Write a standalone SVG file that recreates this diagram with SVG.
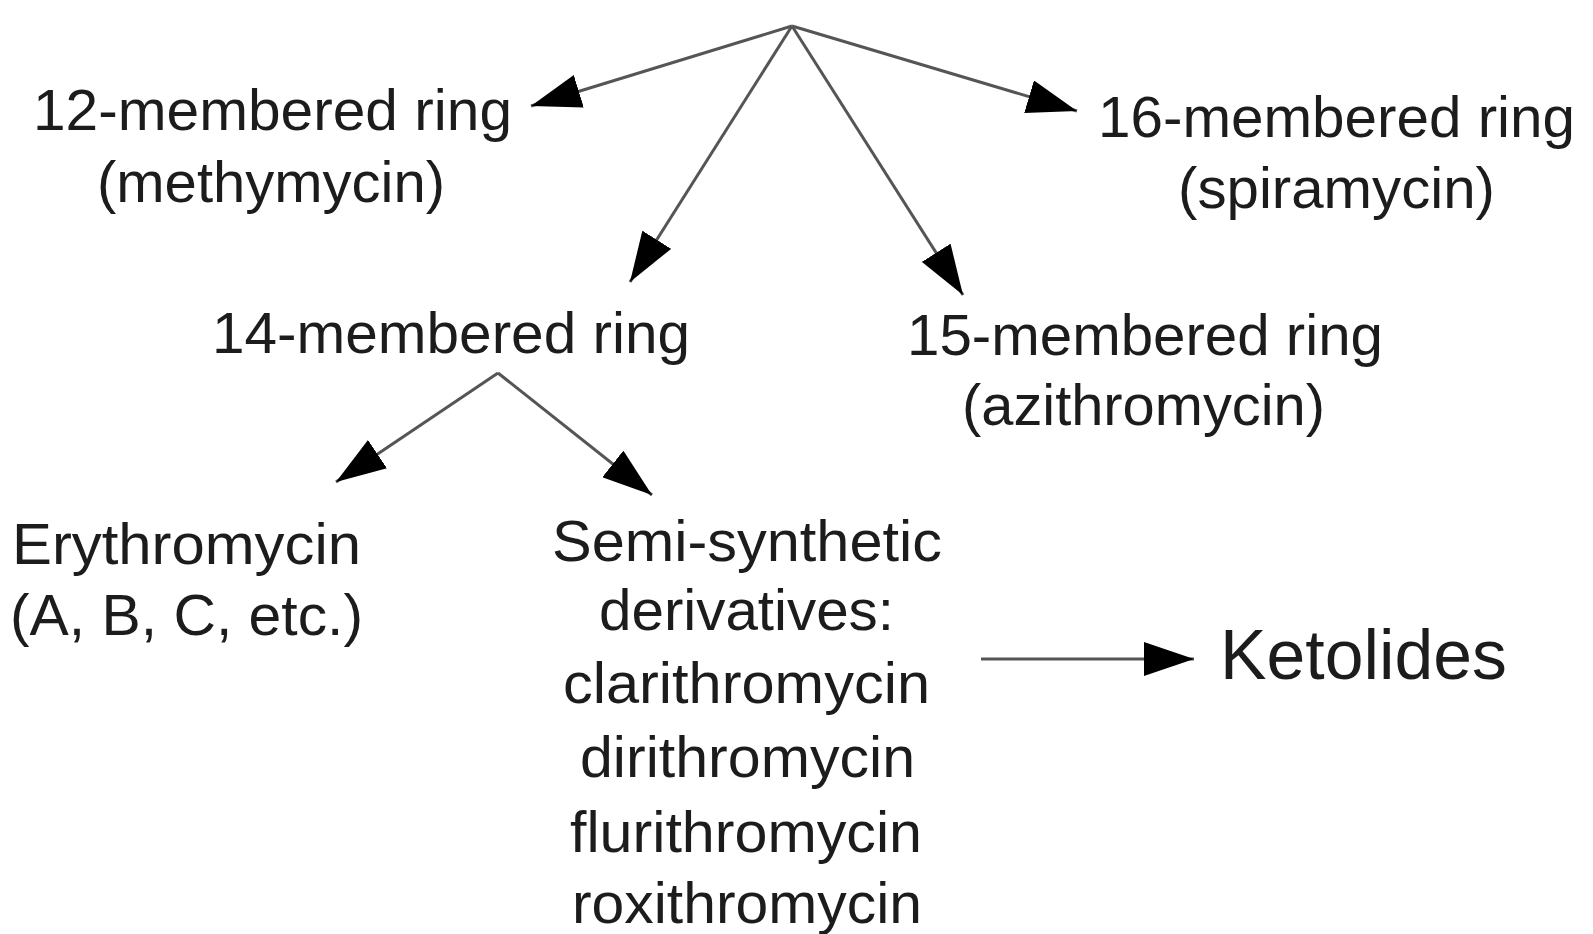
<svg xmlns="http://www.w3.org/2000/svg" width="1593" height="934" viewBox="0 0 1593 934">
  <style>
    .lbl { font-family: "Liberation Sans", Arial, sans-serif; font-size: 57px; fill: #1c1c1c; }
    .big { font-size: 71px; }
    .edge { stroke: #555555; stroke-width: 3; fill: none; marker-end: url(#arrow); }
  </style>
  <defs>
    <marker id="arrow" viewBox="0 0 50 34" refX="50" refY="17" markerWidth="50" markerHeight="34" markerUnits="userSpaceOnUse" orient="auto">
      <path d="M0,0 L50,17 L0,34 z" fill="#000000"/>
    </marker>
  </defs>
  <rect width="1593" height="934" fill="#ffffff"/>

  <!-- connectors -->
  <g id="connectors">
    <line class="edge" x1="792" y1="26" x2="531" y2="106"/>
    <line class="edge" x1="792" y1="26" x2="1077" y2="111"/>
    <line class="edge" x1="792" y1="26" x2="630" y2="282"/>
    <line class="edge" x1="792" y1="26" x2="963" y2="295"/>
    <line class="edge" x1="498" y1="373" x2="336" y2="482"/>
    <line class="edge" x1="498" y1="373" x2="652" y2="495"/>
    <line class="edge" x1="981" y1="659" x2="1194" y2="659"/>
  </g>

  <!-- nodes -->
  <g id="ring12">
    <text class="lbl" x="33" y="130" textLength="479" lengthAdjust="spacingAndGlyphs">12-membered ring</text>
    <text class="lbl" x="97" y="202" textLength="348" lengthAdjust="spacingAndGlyphs">(methymycin)</text>
  </g>
  <g id="ring16">
    <text class="lbl" x="1098" y="137" textLength="477" lengthAdjust="spacingAndGlyphs">16-membered ring</text>
    <text class="lbl" x="1178" y="208" textLength="317" lengthAdjust="spacingAndGlyphs">(spiramycin)</text>
  </g>
  <g id="ring14">
    <text class="lbl" x="212" y="353" textLength="478" lengthAdjust="spacingAndGlyphs">14-membered ring</text>
  </g>
  <g id="ring15">
    <text class="lbl" x="907" y="355" textLength="476" lengthAdjust="spacingAndGlyphs">15-membered ring</text>
    <text class="lbl" x="962" y="425" textLength="363" lengthAdjust="spacingAndGlyphs">(azithromycin)</text>
  </g>
  <g id="erythromycin">
    <text class="lbl" x="12" y="564" textLength="349" lengthAdjust="spacingAndGlyphs">Erythromycin</text>
    <text class="lbl" x="10" y="635" textLength="353" lengthAdjust="spacingAndGlyphs">(A, B, C, etc.)</text>
  </g>
  <g id="semisynthetic">
    <text class="lbl" x="552" y="561" textLength="390" lengthAdjust="spacingAndGlyphs">Semi-synthetic</text>
    <text class="lbl" x="599" y="630" textLength="295" lengthAdjust="spacingAndGlyphs">derivatives:</text>
    <text class="lbl" x="563" y="703" textLength="367" lengthAdjust="spacingAndGlyphs">clarithromycin</text>
    <text class="lbl" x="580" y="777" textLength="335" lengthAdjust="spacingAndGlyphs">dirithromycin</text>
    <text class="lbl" x="570" y="852" textLength="352" lengthAdjust="spacingAndGlyphs">flurithromycin</text>
    <text class="lbl" x="572" y="923" textLength="350" lengthAdjust="spacingAndGlyphs">roxithromycin</text>
  </g>
  <g id="ketolides">
    <text class="lbl big" x="1220" y="679" textLength="287" lengthAdjust="spacingAndGlyphs">Ketolides</text>
  </g>
</svg>
